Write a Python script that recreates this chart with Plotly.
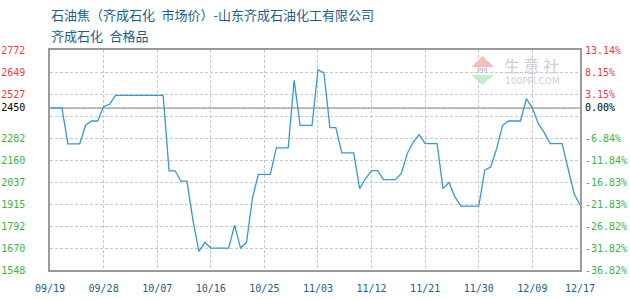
import plotly.graph_objects as go
import pandas as pd

# ---------------- data ----------------
start_date = "2024-09-19"
prices = [
    2450, 2450, 2450, 2250, 2250, 2250, 2355, 2377, 2377, 2457,
    2470, 2520, 2520, 2520, 2520, 2520, 2520, 2520, 2520, 2520,
    2100, 2100, 2042, 2042, 1826, 1652, 1702, 1670, 1670, 1670,
    1670, 1797, 1670, 1702, 1950, 2080, 2080, 2080, 2228, 2228,
    2228, 2603, 2353, 2353, 2353, 2662, 2645, 2340, 2340, 2200,
    2200, 2200, 2001, 2057, 2101, 2101, 2051, 2051, 2051, 2085,
    2196, 2260, 2301, 2251, 2251, 2251, 2001, 2035, 1955, 1903,
    1903, 1903, 1903, 2103, 2121, 2223, 2353, 2377, 2377, 2377,
    2501, 2449, 2362, 2312, 2251, 2251, 2251, 2112, 1974, 1910,
]
dates = pd.date_range(start_date, periods=len(prices), freq="D")
base_price = 2450

y_grid_vals = [1548, 1670.4, 1792.8, 1915.2, 2037.6, 2160, 2282.4, 2404.8, 2527.2, 2649.6, 2772]
left_labels = ["1548", "1670", "1792", "1915", "2037", "2160", "2282", "", "2527", "2649", "2772"]
right_labels = ["-36.82%", "-31.82%", "-26.82%", "-21.83%", "-16.83%", "-11.84%", "-6.84%", "",
                "3.15%", "8.15%", "13.14%"]
base_left_label = "2450"
base_right_label = "0.00%"

x_tick_dates = ["2024-09-19", "2024-09-28", "2024-10-07", "2024-10-16", "2024-10-25", "2024-11-03",
                "2024-11-12", "2024-11-21", "2024-11-30", "2024-12-09", "2024-12-17"]
x_tick_labels = ["09/19", "09/28", "10/07", "10/16", "10/25", "11/03",
                 "11/12", "11/21", "11/30", "12/09", "12/17"]

title_line1 = "石油焦（齐成石化\u2002市场价）-山东齐成石油化工有限公司"
title_line2 = "齐成石化\u2002合格品"

# ---------------- styles ----------------
RED = "#f03c3c"
GREEN = "#3cb43c"
BLACK = "#000000"
BLUE_TXT = "#1b5e8c"
LINE = "#3598d8"
GRID = "#c8c8c8"
BORDER = "#9a9a9a"
MONO = "DejaVu Sans Mono"
CJK = "Noto Sans CJK SC"


def colored(text, value):
    if value > base_price + 1e-9:
        c = RED
    elif value < base_price - 1e-9:
        c = GREEN
    else:
        c = BLACK
    return f"<span style='color:{c}'>{text}</span>"


left_tickvals = y_grid_vals + [base_price]
left_ticktext = [colored(t, v) for t, v in zip(left_labels, y_grid_vals)] + [colored(base_left_label, base_price)]
right_ticktext = [colored(t, v) for t, v in zip(right_labels, y_grid_vals)] + [colored(base_right_label, base_price)]

fig = go.Figure()
fig.add_trace(go.Scatter(x=dates, y=prices, mode="lines",
                         line=dict(color=LINE, width=1.3), hoverinfo="skip", showlegend=False))
fig.add_trace(go.Scatter(x=dates, y=prices, mode="lines", yaxis="y2", opacity=0,
                         line=dict(color=LINE, width=0), hoverinfo="skip", showlegend=False))

yr = [y_grid_vals[0], y_grid_vals[-1]]

fig.update_layout(
    width=630, height=300, autosize=False,
    margin=dict(l=50, r=50, t=50, b=30, pad=0, autoexpand=False),
    paper_bgcolor="white", plot_bgcolor="white",
    showlegend=False,
    xaxis=dict(
        type="date", range=[dates[0], dates[-1]],
        tickmode="array", tickvals=x_tick_dates, ticktext=x_tick_labels, tickangle=0,
        showgrid=True, gridcolor=GRID, griddash="3px,2px", gridwidth=1,
        showline=True, linecolor=BORDER, linewidth=1.5, mirror=True,
        ticks="", ticklabelstandoff=8, automargin=False,
        tickfont=dict(family=MONO, size=10, color=BLUE_TXT),
        zeroline=False, fixedrange=True,
    ),
    yaxis=dict(
        range=yr, tickmode="array", tickvals=left_tickvals, ticktext=left_ticktext,
        showgrid=True, gridcolor=GRID, griddash="3px,2px", gridwidth=1,
        showline=True, linecolor=BORDER, linewidth=1.5, mirror=True,
        ticks="", ticklabelstandoff=21, automargin=False,
        tickfont=dict(family=MONO, size=10, color=BLACK),
        zeroline=False, fixedrange=True,
    ),
    yaxis2=dict(
        range=yr, overlaying="y", side="right", anchor="x",
        tickmode="array", tickvals=left_tickvals, ticktext=right_ticktext,
        showgrid=False, showline=False, ticks="", ticklabelstandoff=4, automargin=False,
        tickfont=dict(family=MONO, size=10, color=BLACK),
        zeroline=False, fixedrange=True,
    ),
)

# baseline at the starting price
fig.add_shape(type="line", xref="paper", x0=0, x1=1, yref="y", y0=base_price, y1=base_price,
              line=dict(color=BORDER, width=1.5), layer="between")

# titles
PW, PH = 530.0, 220.0


def px_x(px):
    return (px - 50) / PW


def px_y(py):
    return (270 - py) / PH


fig.add_annotation(text=title_line1, xref="paper", yref="paper", x=px_x(49), y=px_y(15),
                   xanchor="left", yanchor="middle", showarrow=False,
                   font=dict(family=CJK, size=13, color=BLUE_TXT))
fig.add_annotation(text=title_line2, xref="paper", yref="paper", x=px_x(49), y=px_y(35),
                   xanchor="left", yanchor="middle", showarrow=False,
                   font=dict(family=CJK, size=13, color=BLUE_TXT))

# watermark (生意社 logo)
fig.add_shape(type="path", xref="paper", yref="paper",
              path=f"M {px_x(482.5)} {px_y(56)} L {px_x(471.5)} {px_y(67)} L {px_x(494)} {px_y(67)} Z",
              fillcolor="#f6bcbc", line=dict(width=0), layer="above")
fig.add_shape(type="path", xref="paper", yref="paper",
              path=f"M {px_x(471.5)} {px_y(75)} L {px_x(494)} {px_y(75)} L {px_x(482.5)} {px_y(85)} Z",
              fillcolor="#c4ecc8", line=dict(width=0), layer="above")
fig.add_annotation(text="PPI", xref="paper", yref="paper", x=px_x(482.5), y=px_y(71),
                   xanchor="center", yanchor="middle", showarrow=False,
                   font=dict(family="DejaVu Sans", size=7, color="#a8b4cc"))
fig.add_annotation(text="生 意 社", xref="paper", yref="paper", x=px_x(531), y=px_y(64.5),
                   xanchor="center", yanchor="middle", showarrow=False,
                   font=dict(family=CJK, size=16, color="#c9cedc"))
fig.add_annotation(text="100PPI.COM", xref="paper", yref="paper", x=px_x(532), y=px_y(81),
                   xanchor="center", yanchor="middle", showarrow=False,
                   font=dict(family="DejaVu Sans", size=9, color="#d0d0d0"))

fig.write_html("out.html")
